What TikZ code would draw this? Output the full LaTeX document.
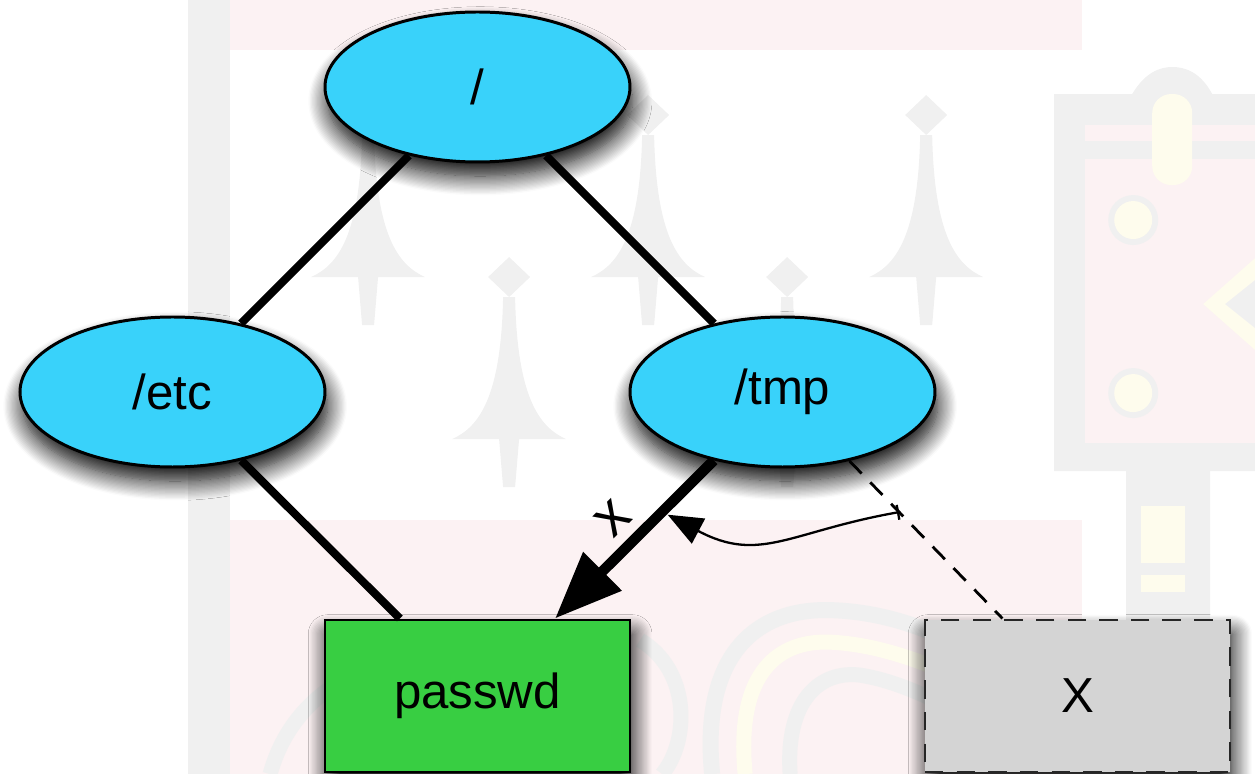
\documentclass[tikz,border=0pt]{standalone}
\usepackage{fontspec}
\setmainfont{Liberation Sans}
\usepackage{tikz}
\usetikzlibrary{positioning,arrows.meta}
\usetikzlibrary{shapes.geometric}
\usetikzlibrary{shadows.blur}

\definecolor{dircyan}{RGB}{57,210,250}
\definecolor{filegreen}{RGB}{56,206,66}
\definecolor{crestgray}{RGB}{240,240,240}
\definecolor{crestpink}{RGB}{252,242,243}
\definecolor{crestyellow}{RGB}{254,252,237}

\tikzset{
	softshadow/.style={blur shadow={shadow xshift=1.5pt, shadow yshift=-8pt, shadow blur radius=11pt, shadow blur steps=16, shadow opacity=100}},
	dirnode/.style={ellipse, draw=black, line width=1.7pt, fill=dircyan, minimum width=6.1cm, minimum height=3cm, inner sep=0pt, softshadow},
	filenode/.style={rectangle, draw=black, line width=1.7pt, fill=filegreen, minimum width=6.1cm, minimum height=3.04cm, softshadow},
	deadnode/.style={rectangle, draw=black!85, line width=1.7pt, dash pattern=on 10.5pt off 7.5pt, fill=black!17, minimum width=6.1cm, minimum height=3.04cm, softshadow},
	link/.style={line width=4.6pt},
	hardlink/.style={line width=6pt, -{Triangle[length=1.34cm, width=1.04cm]}},
	symlink/.style={line width=1.6pt, dash pattern=on 10pt off 7pt},
	redirect/.style={line width=1.3pt, {Bar[width=0.3cm, line width=1.3pt]}-{Triangle[length=0.7cm, width=0.56cm]}}
}

% one ermine spot, (#1,#2) is the tip of its head
\newcommand{\erminespot}[2]{%
	\fill[crestgray] (#1,#2) -- ++(21,20) -- ++(-21,20) -- ++(-21,-20) -- cycle;
	\fill[crestgray] ({#1-6},{#2+40}) .. controls ({#1-8},{#2+140}) and ({#1-30},{#2+170}) .. ({#1-57},{#2+182})
		-- ({#1-10},{#2+182}) -- ({#1-6},{#2+230}) -- ({#1+6},{#2+230}) -- ({#1+10},{#2+182}) -- ({#1+57},{#2+182})
		.. controls ({#1+30},{#2+170}) and ({#1+8},{#2+140}) .. ({#1+6},{#2+40}) -- cycle;
}

\begin{document}
\begin{tikzpicture}[on grid, font=\fontsize{28}{32}\selectfont]
	\useasboundingbox (-9.55,1.74) rectangle (15.55,-13.74);

	% faint crest behind the tree
	\begin{scope}[x=0.02cm, y=-0.02cm, shift={(-9.55cm,1.74cm)}]
		\fill[crestgray] (188,0) rectangle (230,774);
		\fill[crestpink] (230,0) rectangle (1082,50);
		\fill[crestpink] (230,520) rectangle (1082,774);
		\erminespot{368}{95} \erminespot{648}{95} \erminespot{926}{95}
		\erminespot{509}{257} \erminespot{787}{257}
		% swirls in the lower band
		\draw[crestgray, line width=0.32cm] (712,774) .. controls (700,650) and (760,608) .. (830,610) .. controls (900,612) and (950,640) .. (995,662);
		\draw[crestyellow, line width=0.3cm] (745,774) .. controls (735,670) and (780,640) .. (830,642) .. controls (890,645) and (940,670) .. (990,690);
		\draw[crestgray, line width=0.3cm] (790,774) .. controls (785,700) and (820,670) .. (860,675) .. controls (910,683) and (950,710) .. (1000,730);
		\draw[crestgray, line width=0.3cm] (640,640) .. controls (690,670) and (690,740) .. (662,774);
		\draw[crestgray, line width=0.3cm] (270,774) .. controls (285,720) and (320,690) .. (360,670);
		% tower on the right
		\fill[crestgray] (1054,94) -- (1132,94) .. controls (1145,72) and (1160,67) .. (1172,67) .. controls (1185,67) and (1200,72) .. (1212,94)
			-- (1255,94) -- (1255,471) -- (1210,471) -- (1210,620) -- (1126,620) -- (1126,471) -- (1054,471) -- cycle;
		\fill[crestpink] (1085,125) rectangle (1255,141);
		\fill[crestpink] (1085,159) rectangle (1255,443);
		\fill[crestyellow, rounded corners=0.38cm] (1152,94) rectangle (1192,185);
		\fill[crestgray] (1133,220) circle [radius=25] (1133,393) circle [radius=25];
		\fill[crestyellow] (1133,220) circle [radius=19] (1133,393) circle [radius=19];
		\fill[crestyellow] (1255,258) -- (1203,304) -- (1255,350) -- (1255,328) -- (1225,304) -- (1255,280) -- cycle;
		\fill[crestgray] (1255,280) -- (1225,304) -- (1255,328) -- cycle;
		\fill[crestyellow] (1141,506) rectangle (1185,563);
		\fill[crestyellow] (1141,575) rectangle (1185,592);
	\end{scope}

	\node[dirnode] (root) at (0,0) {/};
	\node[dirnode, below left=6.1cm and 6.1cm of root] (etc) {/etc};
	\node[dirnode, below right=6.1cm and 6.1cm of root] (tmp) {/tmp};
	\node[filenode, below=12.18cm of root] (passwd) {passwd};
	\node[deadnode, right=12cm of passwd] (xfile) {X};

	\draw[link] (root) -- (etc);
	\draw[link] (root) -- (tmp);
	\draw[link] (etc) -- (passwd);
	\draw[hardlink] (tmp) -- node[sloped, above=2pt, pos=0.5, font=\fontsize{33}{36}\selectfont] (cut) {x} coordinate[pos=0.325] (hit) (passwd);
	\draw[symlink] (tmp) -- coordinate[pos=0.325] (lnk) (xfile);
	\draw[redirect, shorten >=3.5pt] (lnk) to[out=190, in=-28, looseness=1.2] (hit);
\end{tikzpicture}
\end{document}
